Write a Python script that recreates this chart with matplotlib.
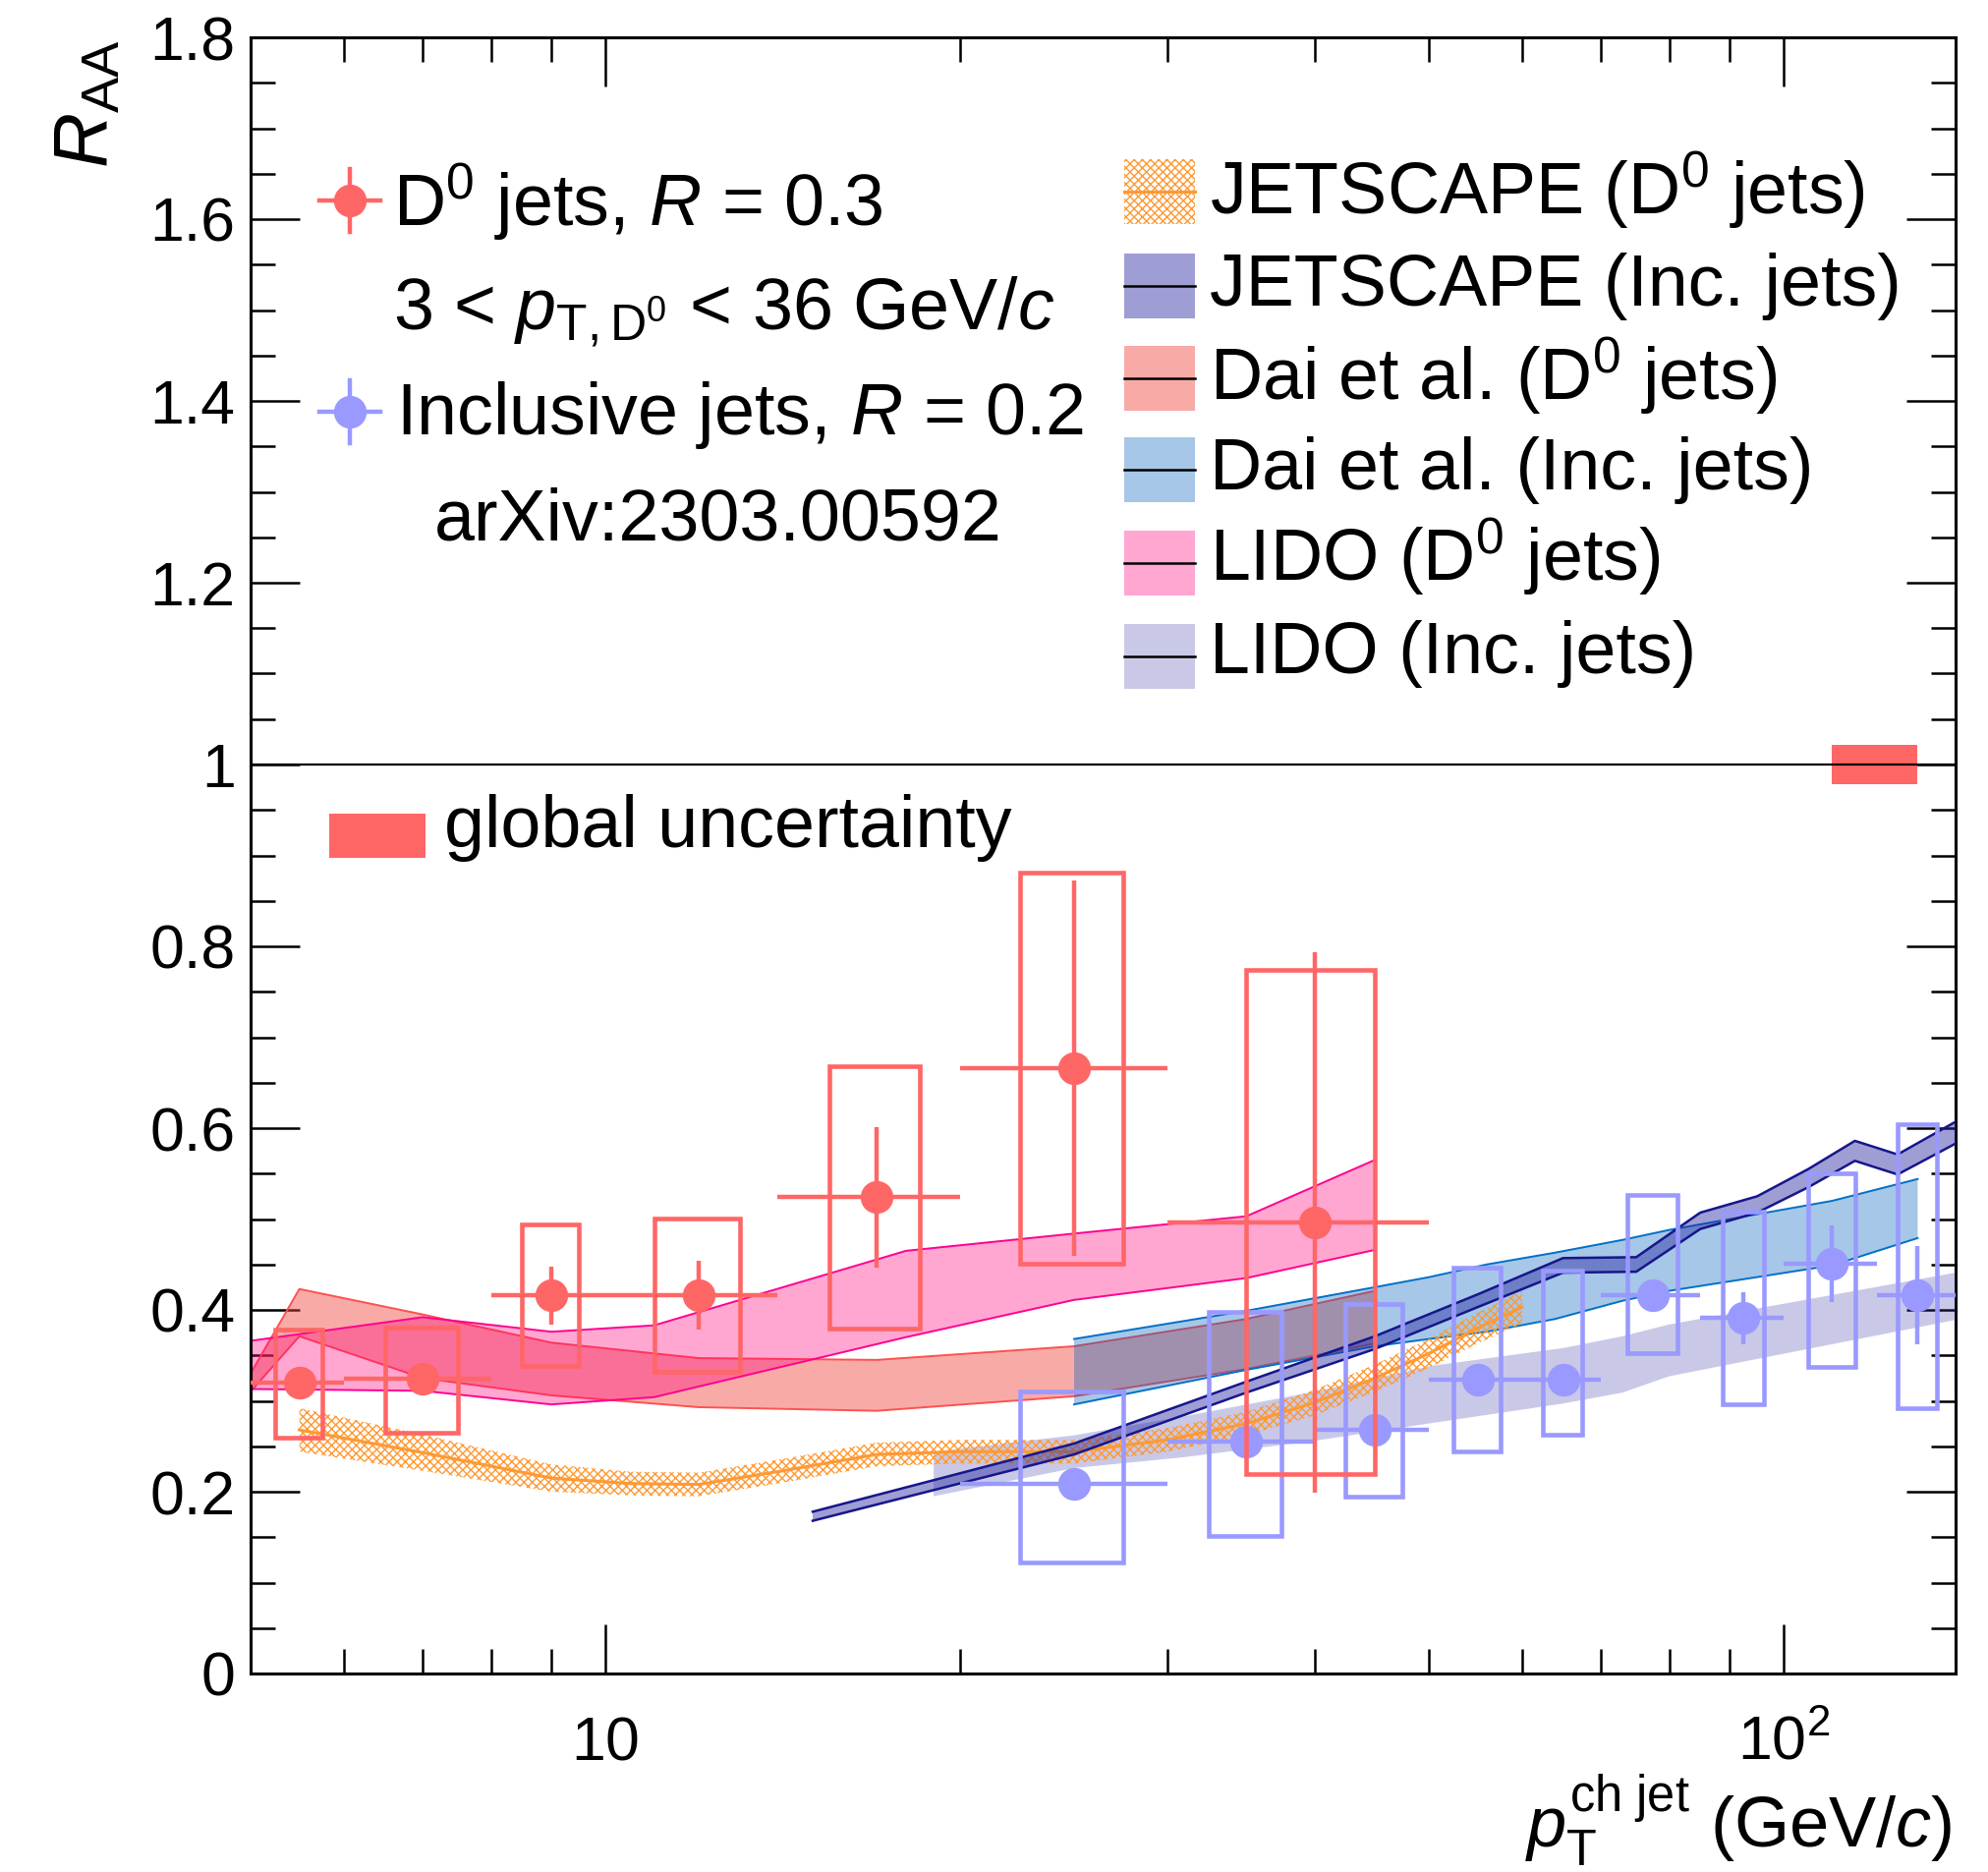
import numpy as np
import matplotlib
matplotlib.use('Agg')
import matplotlib.pyplot as plt
from matplotlib.patches import Rectangle
from matplotlib.ticker import MultipleLocator, FixedLocator, FixedFormatter, FuncFormatter, NullFormatter

plt.rcParams['font.family'] = ['Liberation Sans', 'DejaVu Sans']
plt.rcParams['mathtext.fontset'] = 'custom'
plt.rcParams['mathtext.rm'] = 'Liberation Sans'
plt.rcParams['mathtext.it'] = 'Liberation Sans:italic'
plt.rcParams['mathtext.bf'] = 'Liberation Sans:bold'
plt.rcParams['hatch.linewidth'] = 1.0

# ---------------- data ----------------
# D0 jets, R = 0.3
d0_x = [5.5, 7, 9, 12, 17, 25, 40]
d0_xlo = [5, 6, 8, 10, 14, 20, 30]
d0_xhi = [6, 8, 10, 14, 20, 30, 50]
d0_y = [0.320, 0.324, 0.416, 0.416, 0.524, 0.666, 0.496]
d0_stat = [0.012, 0.012, 0.032, 0.038, 0.077, 0.206, 0.297]
d0_sys_lo = [0.259, 0.265, 0.338, 0.332, 0.379, 0.451, 0.219]
d0_sys_hi = [0.378, 0.381, 0.494, 0.501, 0.668, 0.881, 0.774]

# Inclusive jets, R = 0.2
inc_x = [25, 35, 45, 55, 65, 77.5, 92.5, 110, 130]
inc_xlo = [20, 30, 40, 50, 60, 70, 85, 100, 120]
inc_xhi = [30, 40, 50, 60, 70, 85, 100, 120, 140]
inc_y = [0.209, 0.255, 0.268, 0.323, 0.323, 0.416, 0.391, 0.451, 0.416]
inc_stat = [0.010, 0.010, 0.010, 0.010, 0.010, 0.015, 0.029, 0.042, 0.054]
inc_sys_lo = [0.122, 0.151, 0.195, 0.244, 0.263, 0.352, 0.296, 0.337, 0.292]
inc_sys_hi = [0.310, 0.398, 0.407, 0.447, 0.443, 0.527, 0.508, 0.550, 0.604]

# global uncertainty
glob_x = [110, 130]
glob_unc = 0.022

# JETSCAPE (D0 jets)
jsd0_x = [5.5, 7, 9, 10.5, 12, 14, 17, 20, 25, 30, 35, 40, 45, 50, 55, 60]
jsd0_y = [0.268, 0.243, 0.215, 0.209, 0.208, 0.222, 0.241, 0.244, 0.244, 0.257,
          0.275, 0.298, 0.325, 0.352, 0.380, 0.403]
jsd0_err = [0.024, 0.020, 0.015, 0.013, 0.013, 0.013, 0.013, 0.013, 0.013, 0.013,
            0.013, 0.014, 0.015, 0.016, 0.017, 0.018]

# JETSCAPE (Inc. jets)
jsinc_x = [15, 25, 35, 45, 55, 65, 75, 85, 95, 105, 115, 125, 140]
jsinc_y = [0.173, 0.247, 0.315, 0.364, 0.410, 0.449, 0.450, 0.498, 0.516, 0.545,
           0.575, 0.560, 0.595]
jsinc_err = [0.005, 0.006, 0.006, 0.007, 0.007, 0.008, 0.008, 0.009, 0.009, 0.010,
             0.011, 0.011, 0.012]

# Dai et al. (D0 jets)
daid0_x = [5, 5.5, 7, 9, 12, 17, 25, 35, 45]
daid0_lo = [0.310, 0.371, 0.325, 0.306, 0.293, 0.289, 0.305, 0.335, 0.363]
daid0_hi = [0.330, 0.423, 0.395, 0.364, 0.347, 0.345, 0.360, 0.390, 0.421]

# Dai et al. (Inc. jets)
daiinc_x = [25, 35, 45, 50, 56, 64, 73, 80, 110, 130]
daiinc_lo = [0.296, 0.334, 0.360, 0.368, 0.376, 0.390, 0.410, 0.421, 0.449, 0.479]
daiinc_hi = [0.368, 0.399, 0.425, 0.436, 0.450, 0.463, 0.477, 0.488, 0.520, 0.544]

# LIDO (D0 jets)
lidod0_x = [5, 7, 9, 11, 18, 25, 35, 45]
lidod0_lo = [0.313, 0.311, 0.296, 0.304, 0.370, 0.411, 0.435, 0.466]
lidod0_hi = [0.366, 0.392, 0.376, 0.383, 0.465, 0.484, 0.503, 0.565]

# LIDO (Inc. jets)
lidoinc_x = [19, 25, 31, 40, 50, 65, 73, 80, 140]
lidoinc_lo = [0.195, 0.226, 0.238, 0.256, 0.275, 0.297, 0.309, 0.327, 0.389]
lidoinc_hi = [0.244, 0.262, 0.283, 0.310, 0.338, 0.358, 0.371, 0.384, 0.441]

y_ticks = [0, 0.2, 0.4, 0.6, 0.8, 1.0, 1.2, 1.4, 1.6, 1.8]
x_ticks = [10, 100]
x_ticklabels = ['$10$', '$10^{2}$']

legend_labels = ['JETSCAPE (D$^{0}$ jets)', 'JETSCAPE (Inc. jets)',
                 'Dai et al. (D$^{0}$ jets)', 'Dai et al. (Inc. jets)',
                 'LIDO (D$^{0}$ jets)', 'LIDO (Inc. jets)']

# ---------------- style ----------------
RED = '#FF6666'
BLUE = '#9999FF'
ORANGE = '#FF9933'
JS_HATCH = 'xxxx'
W, H = 2023, 1905
AX_L, AX_R, AX_T, AX_B = 255, 1990, 38, 1703
BOX_FRAC = 0.25

fig = plt.figure(figsize=(W / 100, H / 100), dpi=100)
ax = fig.add_axes([AX_L / W, 1 - AX_B / H, (AX_R - AX_L) / W, (AX_B - AX_T) / H])


def axf(X, Y):
    return (X - AX_L) / (AX_R - AX_L), (AX_B - Y) / (AX_B - AX_T)


band_styles = [
    dict(face='#F0453A', alpha=0.45, edge='#FF5050'),   # Dai D0
    dict(face='#FF007D', alpha=0.35, edge='#FF0090'),   # LIDO D0
    dict(face='#0060BB', alpha=0.35, edge='#0070C8'),   # Dai inc
    dict(face='#3838A8', alpha=0.27, edge=None),        # LIDO inc
]


def band(x, lo, hi, st, z):
    ax.fill_between(x, lo, hi, facecolor=st['face'], alpha=st['alpha'],
                    linewidth=0, zorder=z)
    if st['edge']:
        ax.plot(x, lo, color=st['edge'], lw=1.4, zorder=z + 0.1)
        ax.plot(x, hi, color=st['edge'], lw=1.4, zorder=z + 0.1)


band(daid0_x, daid0_lo, daid0_hi, band_styles[0], 2.0)
band(lidod0_x, lidod0_lo, lidod0_hi, band_styles[1], 2.2)
band(daiinc_x, daiinc_lo, daiinc_hi, band_styles[2], 2.4)
band(lidoinc_x, lidoinc_lo, lidoinc_hi, band_styles[3], 2.6)

# JETSCAPE D0 (hatched)
jx = np.array(jsd0_x); jy = np.array(jsd0_y); je = np.array(jsd0_err)
ax.fill_between(jx, jy - je, jy + je, facecolor='none', edgecolor=ORANGE,
                hatch=JS_HATCH, linewidth=0, zorder=2.8)
ax.plot(jx, jy, color=ORANGE, lw=2.2, zorder=2.9)

# JETSCAPE inc
kx = np.array(jsinc_x); ky = np.array(jsinc_y); ke = np.array(jsinc_err)
ax.fill_between(kx, ky - ke, ky + ke, facecolor='#2828A0', alpha=0.45,
                linewidth=0, zorder=3.0)
ax.plot(kx, ky - ke, color='#16168C', lw=1.8, zorder=3.1)
ax.plot(kx, ky + ke, color='#16168C', lw=1.8, zorder=3.1)

# line at 1
ax.axhline(1.0, color='black', lw=1.6, zorder=3.5)

# global uncertainty box
ax.fill_between(glob_x, [1 - glob_unc] * 2, [1 + glob_unc] * 2, facecolor=RED,
                linewidth=0, zorder=3.4)


def data_series(x, xlo, xhi, y, stat, slo, shi, color, z):
    x = np.array(x); xlo = np.array(xlo); xhi = np.array(xhi)
    for xi, a, b, lo, hi in zip(x, xlo, xhi, slo, shi):
        hw = (b - a) * BOX_FRAC
        ax.add_patch(Rectangle((xi - hw, lo), 2 * hw, hi - lo, facecolor='none',
                               edgecolor=color, lw=3.3, zorder=z))
    ax.errorbar(x, y, xerr=[x - xlo, xhi - x], yerr=stat, fmt='o', color=color,
                ms=23, elinewidth=3.2, capsize=0, zorder=z + 0.1)


data_series(inc_x, inc_xlo, inc_xhi, inc_y, inc_stat, inc_sys_lo, inc_sys_hi, BLUE, 4)
data_series(d0_x, d0_xlo, d0_xhi, d0_y, d0_stat, d0_sys_lo, d0_sys_hi, RED, 5)

# axes setup
ax.set_xscale('log')
ax.set_xlim(5, 140)
ax.set_ylim(0, 1.8)
ax.yaxis.set_major_locator(FixedLocator(y_ticks))
ax.yaxis.set_minor_locator(MultipleLocator(0.05))
ax.yaxis.set_major_formatter(FuncFormatter(lambda v, p: '%g' % v))
ax.xaxis.set_major_locator(FixedLocator(x_ticks))
ax.xaxis.set_major_formatter(FixedFormatter(x_ticklabels))
ax.xaxis.set_minor_locator(FixedLocator([6, 7, 8, 9, 20, 30, 40, 50, 60, 70, 80, 90]))
ax.xaxis.set_minor_formatter(NullFormatter())
ax.tick_params(which='both', direction='in', top=True, right=True, width=1.8)
ax.tick_params(which='major', length=36)
ax.tick_params(which='minor', length=18)
ax.tick_params(axis='y', labelsize=45, pad=11)
ax.tick_params(axis='x', labelsize=45, pad=63)
for lab in ax.get_xticklabels():
    lab.set_verticalalignment('baseline')
for s in ax.spines.values():
    s.set_linewidth(2.2)

# axis titles
fig.text(89 / W, 1 - 40 / H, r'$R_{\mathrm{AA}}$', rotation=90, ha='center', va='top',
         fontsize=56)
fig.text(1987 / W, 1 - 1880 / H, r'$p_{\mathrm{T}}^{\mathrm{ch\ jet}}$ (GeV/$c$)',
         ha='right', va='baseline', fontsize=52)

FS = 53
# left legend
def marker_entry(X, Y, color):
    x0, y0 = axf(X, Y)
    xa, _ = axf(X - 31, Y); xb, _ = axf(X + 31, Y)
    _, ya = axf(X, Y - 32); _, yb = axf(X, Y + 32)
    ax.plot([xa, xb], [y0, y0], color=color, lw=3.2, transform=ax.transAxes, zorder=6)
    ax.plot([x0, x0], [ya, yb], color=color, lw=3.2, transform=ax.transAxes, zorder=6)
    ax.plot([x0], [y0], 'o', color=color, ms=23, transform=ax.transAxes, zorder=6)


marker_entry(356, 204, RED)
marker_entry(356, 419, BLUE)
ax.text(*axf(400, 230), r'D$^{0}$ jets, $R$ = 0.3', transform=ax.transAxes,
        fontsize=FS, ha='left', va='baseline')
ax.text(*axf(400, 335), r'3 < $p_{\mathrm{T,D^{0}}}$ < 36 GeV/$c$', transform=ax.transAxes,
        fontsize=FS, ha='left', va='baseline')
ax.text(*axf(403, 442), r'Inclusive jets, $R$ = 0.2', transform=ax.transAxes,
        fontsize=FS, ha='left', va='baseline')
ax.text(*axf(442, 550), 'arXiv:2303.00592', transform=ax.transAxes,
        fontsize=FS, ha='left', va='baseline')

# global uncertainty legend
gx0, gy0 = axf(335, 873); gx1, gy1 = axf(433, 828)
ax.add_patch(Rectangle((gx0, gy0), gx1 - gx0, gy1 - gy0, transform=ax.transAxes,
                       facecolor=RED, linewidth=0, zorder=6))
ax.text(*axf(452, 862), 'global uncertainty', transform=ax.transAxes,
        fontsize=FS, ha='left', va='baseline')

# right legend
row_top = [162, 258, 352, 445, 540, 635]
row_base = [218, 311, 407, 498, 591, 685]
sw_style = [None,
            dict(face='#2828A0', alpha=0.45),
            dict(face=band_styles[0]['face'], alpha=band_styles[0]['alpha']),
            dict(face=band_styles[2]['face'], alpha=band_styles[2]['alpha']),
            dict(face=band_styles[1]['face'], alpha=band_styles[1]['alpha']),
            dict(face=band_styles[3]['face'], alpha=band_styles[3]['alpha'])]
for i, (lab, t, b) in enumerate(zip(legend_labels, row_top, row_base)):
    x0, y1 = axf(1144, t); x1, y0 = axf(1216, t + 66)
    ym = (y0 + y1) / 2
    if i == 0:
        ax.add_patch(Rectangle((x0, y0), x1 - x0, y1 - y0, transform=ax.transAxes,
                               facecolor='none', edgecolor=ORANGE, hatch=JS_HATCH,
                               linewidth=0, zorder=6))
        ax.plot([x0, x1], [ym, ym], color=ORANGE, lw=2.2, transform=ax.transAxes, zorder=6)
    else:
        st = sw_style[i]
        ax.add_patch(Rectangle((x0, y0), x1 - x0, y1 - y0, transform=ax.transAxes,
                               facecolor=st['face'], alpha=st['alpha'], linewidth=0,
                               zorder=6))
        ax.plot([x0, x1], [ym, ym], color='black', lw=1.8, transform=ax.transAxes, zorder=6)
    ax.text(*axf(1231, b), lab, transform=ax.transAxes, fontsize=FS, ha='left',
            va='baseline', zorder=6)

fig.savefig('out.png', dpi=100)
